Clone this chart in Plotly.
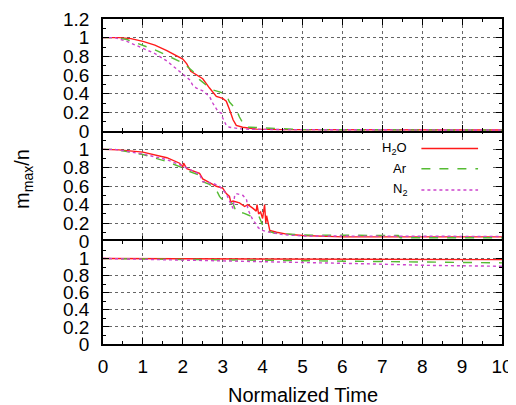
import plotly.graph_objects as go
from plotly.subplots import make_subplots

# ---------------- data ----------------
series_names = ["H<sub>2</sub>O", "Ar", "N<sub>2</sub>"]
colors = ["#ff1a1a", "#55bb33", "#cc44cc"]
dashes = ["solid", "dash", "dot"]

# panel 1 (top)
p1_h2o_x = [0, 0.4, 0.7, 1.0, 1.3, 1.6, 2.0, 2.1, 2.2, 2.34, 2.5, 2.67, 2.84, 3.0, 3.09, 3.17, 3.26, 3.34, 3.5, 3.85, 4.5, 10]
p1_h2o_y = [1.0, 1.0, 0.99, 0.96, 0.92, 0.86, 0.77, 0.72, 0.64, 0.60, 0.56, 0.46, 0.37, 0.35, 0.32, 0.23, 0.12, 0.06, 0.04, 0.02, 0.015, 0.01]
p1_ar_x = [0, 0.3, 0.6, 1.0, 1.3, 1.6, 2.0, 2.25, 2.42, 2.59, 2.75, 2.92, 3.09, 3.17, 3.34, 3.42, 3.51, 3.59, 3.7, 4.2, 5, 10]
p1_ar_y = [1.0, 1.0, 0.98, 0.92, 0.87, 0.81, 0.73, 0.64, 0.55, 0.49, 0.44, 0.42, 0.39, 0.31, 0.23, 0.15, 0.08, 0.04, 0.04, 0.03, 0.015, 0.01]
p1_n2_x = [0, 0.3, 0.6, 1.0, 1.3, 1.6, 2.0, 2.17, 2.25, 2.34, 2.5, 2.67, 2.75, 2.88, 2.97, 3.0, 3.09, 3.17, 3.5, 4.5, 10]
p1_n2_y = [1.0, 1.0, 0.96, 0.89, 0.83, 0.75, 0.61, 0.55, 0.49, 0.46, 0.43, 0.37, 0.30, 0.21, 0.19, 0.14, 0.06, 0.04, 0.02, 0.015, 0.01]

# panel 2 (middle)
p2_h2o_x = [0, 0.4, 1.0, 1.6, 1.92, 2.0, 2.02, 2.1, 2.42, 2.5, 2.67, 2.84, 3.0, 3.09, 3.17, 3.2, 3.26, 3.42, 3.55, 3.63, 3.76, 3.84, 3.86, 3.9, 3.95, 4.0, 4.05, 4.08, 4.1, 4.18, 4.35, 4.6, 5.0, 6, 10]
p2_h2o_y = [1.0, 0.995, 0.97, 0.91, 0.85, 0.81, 0.85, 0.79, 0.74, 0.68, 0.64, 0.60, 0.58, 0.52, 0.49, 0.43, 0.44, 0.42, 0.38, 0.40, 0.36, 0.33, 0.40, 0.30, 0.32, 0.25, 0.40, 0.20, 0.28, 0.12, 0.10, 0.08, 0.065, 0.05, 0.05]
p2_ar_x = [0, 0.3, 1.0, 1.59, 2.0, 2.17, 2.42, 2.5, 2.67, 2.84, 2.92, 3.0, 3.17, 3.26, 3.34, 3.51, 3.68, 3.9, 4.0, 4.1, 4.3, 5.0, 7.4, 7.45, 10]
p2_ar_y = [1.0, 1.0, 0.945, 0.87, 0.80, 0.76, 0.72, 0.65, 0.62, 0.56, 0.49, 0.45, 0.43, 0.41, 0.32, 0.31, 0.28, 0.28, 0.18, 0.12, 0.09, 0.07, 0.065, 0.04, 0.04]
p2_n2_x = [0, 0.3, 1.0, 1.59, 2.0, 2.42, 2.5, 2.76, 2.92, 3.09, 3.17, 3.26, 3.3, 3.34, 3.51, 3.6, 3.63, 3.76, 3.84, 3.89, 4.0, 4.18, 4.5, 5, 10]
p2_n2_y = [1.0, 1.0, 0.95, 0.89, 0.82, 0.73, 0.65, 0.63, 0.60, 0.52, 0.44, 0.36, 0.50, 0.52, 0.50, 0.45, 0.35, 0.23, 0.19, 0.15, 0.12, 0.10, 0.075, 0.06, 0.055]

# panel 3 (bottom)
p3_h2o_x = [0, 2, 5, 10]
p3_h2o_y = [1.0, 0.998, 0.993, 0.988]
p3_ar_x = [0, 0.5, 1.0, 2.0, 3.26, 4.93, 6, 7.3, 8.5, 10]
p3_ar_y = [1.0, 1.0, 0.995, 0.99, 0.985, 0.976, 0.97, 0.965, 0.96, 0.95]
p3_n2_x = [0, 0.16, 1.17, 2.42, 4.1, 4.93, 6.5, 8.2, 9.8, 10]
p3_n2_y = [1.0, 1.0, 0.99, 0.98, 0.965, 0.955, 0.94, 0.92, 0.91, 0.91]

panels = [
    [(p1_h2o_x, p1_h2o_y), (p1_ar_x, p1_ar_y), (p1_n2_x, p1_n2_y)],
    [(p2_h2o_x, p2_h2o_y), (p2_ar_x, p2_ar_y), (p2_n2_x, p2_n2_y)],
    [(p3_h2o_x, p3_h2o_y), (p3_ar_x, p3_ar_y), (p3_n2_x, p3_n2_y)],
]

x_ticks = list(range(0, 11))
y_ticks_top = [0, 0.2, 0.4, 0.6, 0.8, 1, 1.2]
y_ticks_other = [0, 0.2, 0.4, 0.6, 0.8, 1]

FONT = "Liberation Sans, Arial, Helvetica, sans-serif"

fig = make_subplots(rows=3, cols=1, shared_xaxes=False, vertical_spacing=0)

for r, pdata in enumerate(panels, start=1):
    for i, (xs, ys) in enumerate(pdata):
        fig.add_trace(go.Scatter(x=xs, y=ys, mode="lines", name=series_names[i],
                                 showlegend=False,
                                 line=dict(color=colors[i], width=1.4, dash=dashes[i], shape="linear")),
                      row=r, col=1)

domains = [(0.6554, 1.0), (0.3154, 0.6554), (0.0, 0.3154)]
axis_common = dict(showline=True, linewidth=1.5, mirror="allticks",
                   ticks="inside", ticklen=6, tickwidth=1.2, tickcolor="black",
                   showgrid=True, gridcolor="#666666", griddash="dot", gridwidth=1,
                   zeroline=False, automargin=False,
                   tickfont=dict(family=FONT, size=19, color="black"))

for r in range(1, 4):
    xname = "xaxis" if r == 1 else f"xaxis{r}"
    yname = "yaxis" if r == 1 else f"yaxis{r}"
    # middle panel's x-axis line is transparent: its borders are drawn by the neighbours
    xline = "rgba(0,0,0,0)" if r == 2 else "black"
    fig.layout[xname].update(range=[0, 10], tickvals=x_ticks, showticklabels=(r == 3),
                             linecolor=xline,
                             minor=dict(ticks="inside", dtick=0.5, ticklen=3, tickcolor="black", showgrid=False),
                             ticklabelstandoff=4, **axis_common)
    fig.layout[yname].update(range=[0, 1.2], domain=list(domains[r - 1]),
                             linecolor="black",
                             tickvals=(y_ticks_top if r == 1 else y_ticks_other),
                             minor=dict(ticks="inside", dtick=0.1, ticklen=3, tickcolor="black", showgrid=False),
                             ticklabelstandoff=8, **axis_common)

# legend (gnuplot style: text right-aligned, sample to the right) inside middle panel
leg_rect = dict(x0=6.74, x1=9.75, y0=0.45, y1=1.08)
fig.add_shape(type="rect", xref="x2", yref="y2", **leg_rect,
              fillcolor="white", line=dict(width=0), layer="above")
leg_rows = [1.01, 0.79, 0.56]
for i, name in enumerate(series_names):
    fig.add_shape(type="line", xref="x2", yref="y2", x0=7.98, x1=9.40, y0=leg_rows[i], y1=leg_rows[i],
                  line=dict(color=colors[i], width=1.4, dash=dashes[i]), layer="above")
    fig.add_annotation(xref="x2", yref="y2", x=7.67, y=leg_rows[i], text=name, showarrow=False,
                       xanchor="right", yanchor="middle", font=dict(family=FONT, size=13, color="black"))

# axis titles
fig.add_annotation(xref="paper", yref="paper", x=-0.198, y=0.508, text="m<sub>max</sub>/n",
                   textangle=-90, showarrow=False, xanchor="center", yanchor="middle",
                   font=dict(family=FONT, size=20, color="black"))
fig.add_annotation(xref="paper", yref="paper", x=0.5, y=-0.156, text="Normalized Time",
                   showarrow=False, xanchor="center", yanchor="middle",
                   font=dict(family=FONT, size=20, color="black"))

# the page body has an 8px margin, so the margins are shifted to put the plot area
# at the reference's pixel position inside the 516x405 window
fig.update_layout(width=516, height=405, margin=dict(l=95, r=22, t=11, b=69),
                  paper_bgcolor="white", plot_bgcolor="white", showlegend=False,
                  font=dict(family=FONT, color="black"))

fig.write_html("out.html")
